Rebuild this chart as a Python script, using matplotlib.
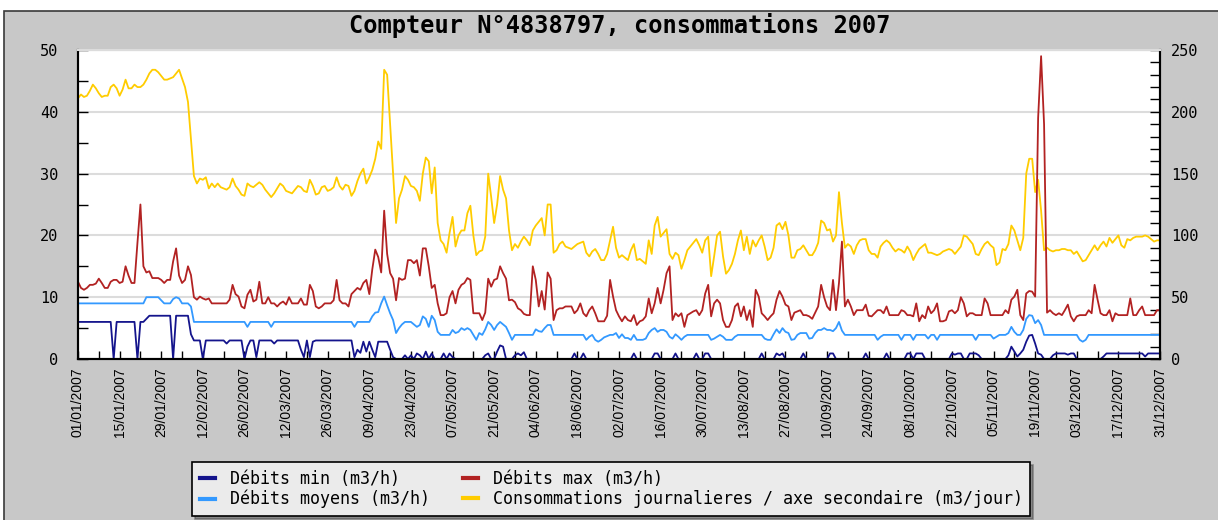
"""Compteur N°4838797 - débits min/moyens/max et consommations journalières 2007."""
import numpy as np
import pandas as pd
import matplotlib
matplotlib.use("Agg")
import matplotlib.pyplot as plt
from matplotlib.patches import Rectangle
from matplotlib.lines import Line2D

# ---- data (one value per day, 01/01/2007 -> 31/12/2007) ----
# Débits max (m3/h)
debit_max = [
    # jan
    12.5, 11.5, 11.2, 11.5, 12, 12, 12.2, 13, 12.3, 11.5,
    11.5, 12.5, 12.8, 12.8, 12.3, 12.5, 15, 13.5, 12.3, 12.3,
    18.8, 25, 15, 14, 14.2, 13.1, 13.1, 13.1, 12.8, 12.3, 12.8,
    # feb
    12.8, 15.8, 17.9, 13.5, 12.3, 12.8, 15, 13.6, 10, 9.6,
    10.1, 9.8, 9.6, 9.8, 9, 9, 9, 9, 9, 9,
    9.6, 12, 10.5, 10.1, 8.5, 8.2, 10.4, 11.2,
    # mar
    9.3, 9.6, 12.5, 9, 9, 10, 9, 9, 8.5, 9,
    9.3, 8.8, 10, 9, 9, 9, 9.8, 8.8, 8.8, 12,
    11, 8.5, 8.2, 8.5, 9, 9, 9, 9.5, 12.8, 9.5, 9,
    # apr
    9, 8.5, 10.5, 11, 11.5, 11.2, 12.3, 12.8, 10.5, 14.5,
    17.7, 16.5, 14, 24, 17, 13.9, 13, 9.5, 13.1, 12.8,
    13, 16, 16, 15.5, 16, 13.5, 17.9, 17.9, 15, 11.5,
    # may
    12, 9, 7.1, 7.1, 7.4, 10, 11, 9, 11.2, 12,
    12.3, 13.1, 12.8, 7.4, 7.4, 7.4, 6.3, 7.5, 13, 11.7,
    12.8, 13, 15, 13.9, 13, 9.5, 9.6, 9.2, 8.2, 7.9, 7.3,
    # jun
    7.1, 7.1, 15, 12.8, 8.5, 11, 8, 14, 13, 6.3,
    7.9, 8.2, 8.2, 8.5, 8.5, 8.5, 7.4, 7.9, 9, 7.4,
    6.9, 7.9, 8.5, 7.4, 6.1, 6.1, 6.1, 7, 12.8, 10.1,
    # jul
    7.9, 6.9, 6.1, 6.9, 6.3, 6.1, 7.1, 5.5, 6.1, 6.3,
    6.9, 9.8, 7.4, 9, 11.5, 9, 11.2, 13.9, 15, 6.3,
    7.4, 6.9, 7.4, 5.2, 7.1, 7.4, 7.7, 7.9, 7.1, 7.9, 10.6,
    # aug
    12, 6.9, 9, 9.6, 9, 6.3, 5.2, 5.2, 6.3, 8.5,
    9, 6.9, 8.5, 6.3, 7.9, 5.2, 11.2, 10.1, 7.4, 6.9,
    6.3, 6.9, 7.4, 9.6, 11, 10.1, 8.8, 8.5, 6.3, 7.5, 7.7,
    # sep
    7.9, 7.1, 7.1, 6.9, 6.5, 7.5, 8.5, 12, 10, 8.5,
    7.9, 12.8, 7.9, 12.3, 19, 8.5, 9.6, 8.5, 7.1, 7.9,
    7.9, 7.9, 8.8, 7, 6.9, 7.4, 7.9, 7.9, 7.4, 8.5,
    # oct
    7.1, 7.1, 7.1, 7.1, 7.9, 7.7, 7.1, 7.1, 6.9, 9,
    6.1, 7.1, 6.6, 8.5, 7.4, 7.9, 9, 6.1, 6.1, 6.3,
    7.7, 7.9, 7.4, 7.9, 10, 9, 6.9, 7.4, 7.4, 7.1, 7.1,
    # nov
    7.1, 9.8, 9, 7.1, 7.1, 7.1, 7.1, 7.1, 7.9, 7.4,
    9.6, 10.1, 11.2, 7.1, 6.3, 10.6, 11, 10.9, 10.1, 39,
    49, 38, 7.5, 7.9, 7.4, 7.1, 7.4, 7.1, 7.9, 8.8,
    # dec
    6.9, 6.1, 6.9, 7.1, 7.1, 7.1, 7.9, 7.4, 12, 9.6,
    7.4, 7.1, 7.1, 7.9, 6.1, 7.4, 7.1, 7.1, 7.1, 7.1,
    9.8, 7.1, 7.1, 7.9, 8.5, 7.1, 7.1, 7.1, 7.1, 7.9, 7.9,
]

# Débits moyens (m3/h)
debit_moyen = [
    # jan
    9, 9, 9, 9, 9, 9, 9, 9, 9, 9,
    9, 9, 9, 9, 9, 9, 9, 9, 9, 9,
    9, 9, 9, 10, 10, 10, 10, 10, 9.5, 9, 9,
    # feb
    9, 9.7, 10, 9.8, 9, 9, 9, 8.5, 6, 6,
    6, 6, 6, 6, 6, 6, 6, 6, 6, 6,
    6, 6, 6, 6, 6, 6, 5.2, 6,
    # mar
    6, 6, 6, 6, 6, 6, 5.2, 6, 6, 6,
    6, 6, 6, 6, 6, 6, 6, 6, 6, 6,
    6, 6, 6, 6, 6, 6, 6, 6, 6, 6, 6,
    # apr
    6, 6, 6, 5.2, 6, 6, 6, 6, 6, 6.9,
    7.5, 7.6, 9, 10.1, 8.7, 7.4, 6.3, 4.2, 5, 5.6,
    6, 6, 6, 5.6, 5.2, 5.5, 6.9, 6.5, 5.2, 7,
    # may
    6.3, 4.4, 3.9, 3.9, 3.9, 3.9, 4.7, 4.2, 4.4, 5,
    4.7, 5, 4.7, 3.9, 3.1, 4.2, 3.9, 4.8, 6, 5.5,
    4.7, 5.5, 6, 5.6, 5.2, 4.2, 3.1, 3.9, 3.9, 3.9, 3.9,
    # jun
    3.9, 3.9, 3.9, 4.8, 4.5, 4.4, 5, 5.5, 5.5, 3.9,
    3.9, 3.9, 3.9, 3.9, 3.9, 3.9, 3.9, 3.9, 3.9, 3.9,
    3.1, 3.6, 3.9, 3.1, 2.8, 3.1, 3.5, 3.7, 3.9, 3.9,
    # jul
    4.2, 3.4, 4, 3.4, 3.4, 3.1, 3.9, 3.1, 3.1, 3.1,
    3.3, 4.2, 4.7, 5, 4.4, 4.7, 4.7, 4.4, 3.6, 3.3,
    4, 3.6, 3.1, 3.6, 3.9, 3.9, 3.9, 3.9, 3.9, 3.9, 3.9,
    # aug
    3.9, 3.1, 3.3, 3.6, 3.9, 3.6, 3.1, 3.1, 3.1, 3.6,
    3.9, 3.9, 3.9, 3.9, 3.9, 3.9, 3.9, 3.9, 3.9, 3.3,
    3.1, 3.1, 4, 4.8, 4.2, 5, 4.4, 4.2, 3.1, 3.2, 3.9,
    # sep
    4.2, 4.2, 4.2, 3.3, 3.4, 4.2, 4.7, 4.7, 5, 4.7,
    4.7, 4.5, 5, 6, 4.6, 3.9, 3.9, 3.9, 3.9, 3.9,
    3.9, 3.9, 3.9, 3.9, 3.9, 3.9, 3.1, 3.6, 3.9, 3.9,
    # oct
    3.9, 3.9, 3.9, 3.9, 3.1, 3.9, 3.9, 3.9, 3.1, 3.9,
    3.9, 3.9, 3.9, 3.3, 3.9, 3.9, 3.1, 3.9, 3.9, 3.9,
    3.9, 3.9, 3.9, 3.9, 3.9, 3.9, 3.9, 3.9, 3.9, 3.1, 3.9,
    # nov
    3.9, 3.9, 3.9, 3.9, 3.3, 3.6, 3.9, 3.9, 3.9, 4.2,
    5.2, 4.4, 3.9, 3.9, 4.7, 6.5, 7.1, 7, 5.8, 6.3,
    5.5, 3.9, 3.9, 3.9, 3.9, 3.9, 3.9, 3.9, 3.9, 3.9,
    # dec
    3.9, 3.9, 3.9, 3.1, 2.8, 3.1, 3.9, 3.9, 3.9, 3.9,
    3.9, 3.9, 3.9, 3.9, 3.9, 3.9, 3.9, 3.9, 3.9, 3.9,
    3.9, 3.9, 3.9, 3.9, 3.9, 3.9, 3.9, 3.9, 3.9, 3.9, 3.9,
]

# Débits min (m3/h)
debit_min = [
    # jan
    6, 6, 6, 6, 6, 6, 6, 6, 6, 6,
    6, 6, 0, 6, 6, 6, 6, 6, 6, 6,
    0, 6, 6, 6.5, 7, 7, 7, 7, 7, 7, 7,
    # feb
    7, 0, 7, 7, 7, 7, 7, 4, 3, 3,
    3, 0, 3, 3, 3, 3, 3, 3, 3, 2.5,
    3, 3, 3, 3, 3, 0, 2, 3,
    # mar
    3, 0.3, 3, 3, 3, 3, 3, 2.5, 3, 3,
    3, 3, 3, 3, 3, 3, 1.5, 0.3, 3, 0.3,
    2.8, 3, 3, 3, 3, 3, 3, 3, 3, 3, 3,
    # apr
    3, 3, 3, 0.3, 1.5, 1, 2.8, 1.2, 2.8, 1.5,
    0.3, 2.8, 2.8, 2.8, 2.8, 1.5, 0.3, 0, 0, 0,
    0.6, 0, 0.6, 0, 0.9, 0.6, 0, 1.2, 0, 0.9,
    # may
    0, 0, 0, 0.9, 0, 0.9, 0.3, 0, 0, 0,
    0, 0, 0, 0, 0, 0, 0, 0.6, 0.9, 0,
    0, 1.2, 2.2, 2, 0, 0, 0, 0.6, 0.9, 0.6, 1.1,
    # jun
    0, 0, 0, 0, 0, 0, 0, 0, 0, 0,
    0, 0, 0, 0, 0, 0, 0.9, 0, 0, 0.9,
    0, 0, 0, 0, 0, 0, 0, 0, 0, 0,
    # jul
    0, 0, 0, 0, 0, 0, 0.9, 0, 0, 0,
    0, 0, 0, 0.9, 0.9, 0, 0, 0, 0, 0,
    0.9, 0, 0, 0, 0, 0, 0, 0.9, 0, 0, 0.9,
    # aug
    0.9, 0, 0, 0, 0, 0, 0, 0, 0, 0,
    0, 0, 0, 0, 0, 0, 0, 0, 0.9, 0,
    0, 0, 0, 0.9, 0.6, 0.9, 0, 0, 0, 0, 0,
    # sep
    0, 0.9, 0, 0, 0, 0, 0, 0, 0, 0,
    0.9, 0.9, 0, 0, 0, 0, 0, 0, 0, 0,
    0, 0, 0.9, 0, 0, 0, 0, 0, 0, 0.9,
    # oct
    0, 0, 0, 0, 0, 0, 0.9, 0.9, 0, 0.9,
    0.9, 0.9, 0, 0, 0, 0, 0, 0, 0, 0,
    0, 0.9, 0.7, 0.9, 0.9, 0, 0, 0.9, 0.9, 0.9, 0.6,
    # nov
    0, 0, 0, 0, 0, 0, 0, 0, 0, 0.6,
    2, 1.2, 0.4, 0.9, 1.5, 2.8, 3.8, 3.9, 2.5, 0.9,
    0.7, 0, 0, 0, 0.6, 0.9, 0.9, 0.9, 0.9, 0.7,
    # dec
    0.9, 0.9, 0, 0, 0, 0, 0, 0, 0, 0,
    0, 0.4, 0.9, 0.9, 0.9, 0.9, 0.9, 0.9, 0.9, 0.9,
    0.9, 0.9, 0.9, 0.9, 0.9, 0.4, 0.9, 0.9, 0.9, 0.9, 0.9,
]

# Consommations journalieres (m3/jour) - secondary axis
conso_jour = [
    # jan
    211, 214, 212, 213, 217, 222, 219, 215, 212, 213,
    213, 220, 222, 219, 213, 218, 226, 219, 219, 222,
    220, 220, 222, 226, 231, 234, 234, 232, 229, 226, 226,
    # feb
    227, 228, 231, 234, 227, 220, 208, 178, 148, 142,
    146, 145, 147, 138, 142, 139, 142, 139, 138, 137,
    139, 146, 140, 137, 133, 132, 142, 140,
    # mar
    139, 141, 143, 141, 137, 134, 131, 134, 138, 142,
    140, 136, 135, 134, 137, 140, 139, 136, 135, 145,
    140, 133, 134, 139, 140, 136, 137, 139, 147, 140, 137,
    # apr
    141, 140, 132, 136, 144, 150, 154, 142, 147, 153,
    162, 176, 170, 234, 230, 190, 150, 110, 130, 137,
    148, 145, 140, 139, 136, 128, 150, 163, 160, 134,
    # may
    155, 110, 96, 93, 86, 102, 115, 91, 100, 104,
    104, 118, 124, 100, 84, 87, 88, 99, 150, 131,
    110, 125, 148, 137, 130, 104, 88, 93, 90, 95, 99,
    # jun
    96, 92, 104, 108, 111, 114, 100, 125, 125, 86,
    88, 93, 95, 91, 90, 89, 91, 93, 94, 95,
    86, 83, 87, 89, 85, 80, 80, 85, 96, 107,
    # jul
    90, 82, 84, 82, 80, 88, 93, 80, 81, 79,
    77, 96, 85, 108, 115, 99, 102, 105, 85, 81,
    86, 84, 73, 80, 88, 91, 94, 97, 92, 86, 96,
    # aug
    99, 67, 83, 100, 103, 83, 69, 72, 77, 85,
    96, 104, 88, 99, 85, 96, 91, 96, 100, 91,
    80, 82, 90, 108, 110, 105, 111, 100, 82, 82, 88,
    # sep
    89, 92, 88, 84, 84, 88, 94, 112, 110, 104,
    105, 95, 100, 135, 110, 90, 93, 91, 85, 92,
    96, 97, 97, 88, 85, 85, 82, 91, 94, 96,
    # oct
    94, 90, 87, 89, 88, 86, 91, 87, 80, 85,
    89, 91, 93, 86, 86, 85, 84, 85, 87, 88,
    89, 88, 85, 88, 91, 100, 99, 96, 93, 85, 84,
    # nov
    89, 93, 95, 92, 90, 76, 78, 89, 88, 93,
    108, 104, 96, 88, 98, 150, 162, 162, 135, 145,
    120, 88, 90, 88, 87, 88, 88, 89, 89, 88,
    # dec
    88, 85, 87, 83, 79, 80, 84, 88, 92, 88,
    92, 95, 91, 98, 94, 97, 100, 92, 90, 97,
    96, 98, 99, 99, 99, 100, 99, 97, 95, 96, 96,
]

labels = ["Débits min (m3/h)", "Débits moyens (m3/h)", "Débits max (m3/h)",
          "Consommations journalieres / axe secondaire (m3/jour)"]
colors = {"min": "#14148c", "moy": "#3399ff", "max": "#b22222", "conso": "#ffcc00"}

days = pd.date_range("2007-01-01", "2007-12-31", freq="D")
for s in (debit_max, debit_moyen, debit_min, conso_jour):
    assert len(s) == len(days), len(s)

W, H = 1218, 520
mono = "DejaVu Sans Mono"

fig = plt.figure(figsize=(W / 100, H / 100), dpi=100, facecolor="white")
# grey panel with a dark edge on top / left
fig.patches.append(Rectangle((4 / W, -0.1), 1.1, 1.1 - 11 / H,
                             transform=fig.transFigure, facecolor="#c8c8c8",
                             edgecolor="#3a3a3a", lw=1.2, zorder=-10))

rect = [78 / W, 1 - 359 / H, (1160 - 78) / W, (359 - 50) / H]
ax2 = fig.add_axes(rect)          # secondary (drawn below)
ax = fig.add_axes(rect, sharex=ax2)
ax.patch.set_visible(False)
ax2.set_facecolor("white")

# yellow on secondary axis, behind
ax2.plot(days, conso_jour, color=colors["conso"], lw=1.3)
ax2.set_ylim(0, 250)
ax2.set_yticks(np.arange(0, 251, 50))
ax2.set_yticks(np.arange(0, 251, 10), minor=True)
ax2.yaxis.tick_right()
ax2.yaxis.grid(True, which="major", color="#dcdcdc", lw=1.5)
ax2.set_axisbelow(True)

ax.plot(days, debit_min, color=colors["min"], lw=1.3)
ax.plot(days, debit_moyen, color=colors["moy"], lw=1.3)
ax.plot(days, debit_max, color=colors["max"], lw=1.3)
ax.set_ylim(0, 50)
ax.set_yticks(np.arange(0, 51, 10))
ax.set_yticks(np.arange(5, 50, 10), minor=True)
ax.set_xlim(days[0], days[-1])

ax.set_xticks(days[::14])
ax.set_xticks(days[::7], minor=True)
ax.set_xticklabels([d.strftime("%d/%m/%Y") for d in days[::14]],
                   rotation=90, family="Liberation Sans", fontsize=10)
ax2.tick_params(axis="x", which="both", bottom=False, labelbottom=False)

ax.tick_params(axis="x", which="major", direction="in", length=6, width=1, pad=6)
ax.tick_params(axis="x", which="minor", direction="in", length=6, width=1)
ax.tick_params(axis="y", which="both", direction="in", length=7, width=1,
               pad=14, labelsize=11)
ax2.tick_params(axis="y", which="both", direction="in", length=7, width=1,
                pad=8, labelsize=11)
for lab in ax.get_yticklabels() + ax2.get_yticklabels():
    lab.set_family(mono)

for a in (ax, ax2):
    for side in ("left", "bottom", "right"):
        a.spines[side].set_color("black")
        a.spines[side].set_linewidth(1.5)
    a.spines["top"].set_color("#dcdcdc")
    a.spines["top"].set_linewidth(1.5)

fig.text(620 / W, 1 - 26 / H, "Compteur N°4838797, consommations 2007",
         ha="center", va="center", family=mono, fontweight="bold", fontsize=17)

handles = [Line2D([], [], color=colors["min"], lw=3),
           Line2D([], [], color=colors["moy"], lw=3),
           Line2D([], [], color=colors["max"], lw=3),
           Line2D([], [], color=colors["conso"], lw=3)]
leg = fig.legend(handles, labels, ncol=2, loc="upper left",
                 bbox_to_anchor=(192 / W, 1 - 462 / H), borderaxespad=0,
                 prop={"family": mono, "size": 12}, frameon=True,
                 fancybox=False, shadow=True, framealpha=1,
                 facecolor="#ebebeb", edgecolor="black",
                 handlelength=0.9, handletextpad=0.9, columnspacing=2.0,
                 labelspacing=0.15, borderpad=0.45)
leg.get_frame().set_linewidth(1.2)

fig.savefig("out.png", dpi=100, facecolor=fig.get_facecolor())
